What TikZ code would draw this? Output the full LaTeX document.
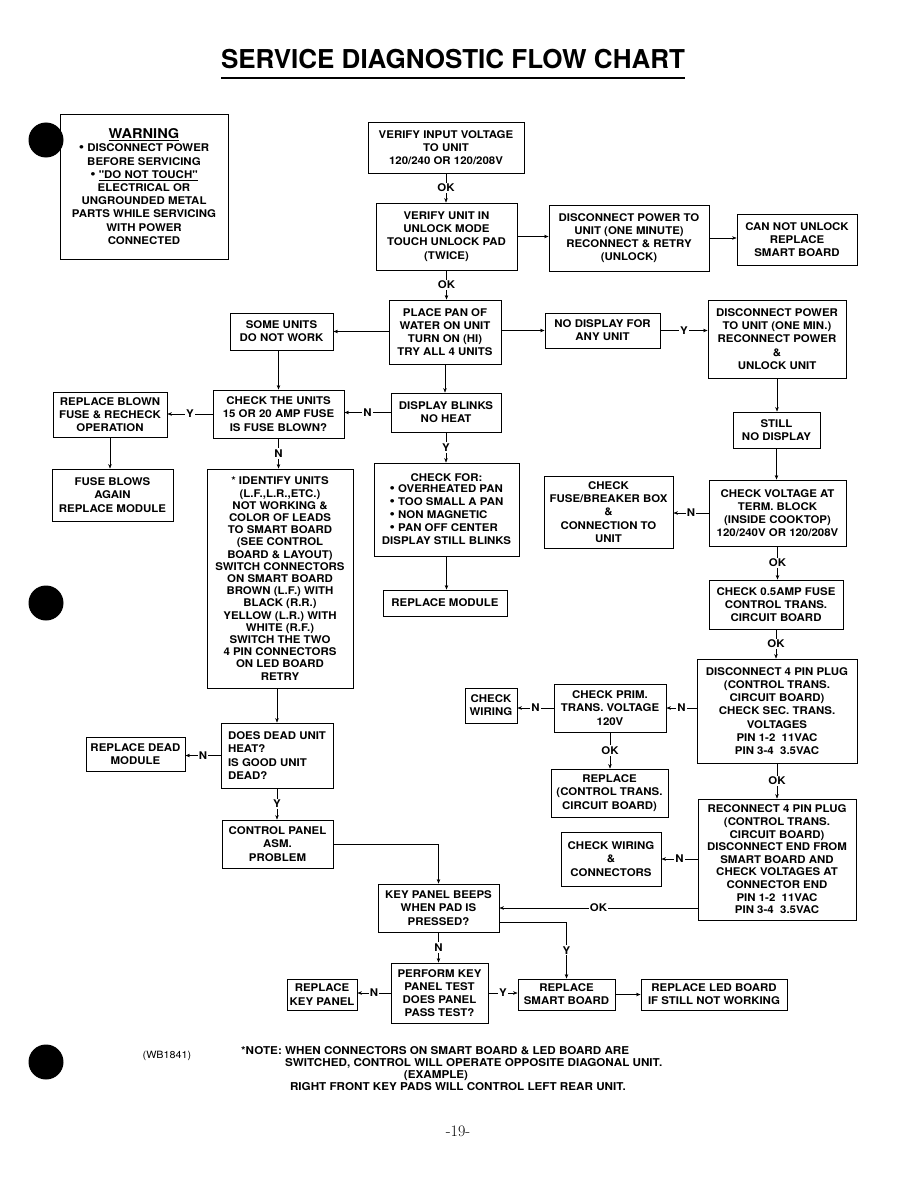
\documentclass[tikz,border=0pt]{standalone}
\usepackage{fontspec}
\newfontfamily\hv[FakeStretch=1.08]{TeX Gyre Heros}
\newfontfamily\hvt{TeX Gyre Heros}
\usetikzlibrary{arrows.meta}
\newcommand{\blt}{{\fontsize{14}{13}\selectfont\textbullet}}

\begin{document}
\begin{tikzpicture}[x=1pt,y=-1pt,
  >={Stealth[length=4.5pt,width=3.5pt]},
  box/.style={draw, line width=0.9pt, align=center, inner sep=0pt,
    font=\hv\bfseries\fontsize{10.6}{13.2}\selectfont},
  lbl/.style={fill=white, inner sep=1.2pt, font=\hv\bfseries\fontsize{10.6}{12}\selectfont},
  note/.style={inner sep=0pt, font=\hv\bfseries\fontsize{10.8}{12}\selectfont},
  conn/.style={->, line width=0.5pt}]
\useasboundingbox (0,0) rectangle (918,1188);

\node[font=\hvt\bfseries\fontsize{26}{30}\selectfont, anchor=base] (title) at (453,69) {SERVICE DIAGNOSTIC FLOW CHART};
\draw[line width=1.2pt] (221,78) -- (685,78);

\fill (46,140) circle (17.5);
\fill (46,603) circle (17.5);
\fill (46,1062) circle (17.5);

\node[box, minimum width=168, minimum height=145] (warn) at (144,186.5) {{\fontsize{13.5}{15}\selectfont\underline{WARNING}}\\\blt\ DISCONNECT POWER\\BEFORE SERVICING\\\blt\ \underline{"DO NOT TOUCH"}\\ELECTRICAL OR\\UNGROUNDED METAL\\PARTS WHILE SERVICING\\WITH POWER\\CONNECTED};

\node[box, minimum width=156, minimum height=51] (vin) at (446,147.5) {VERIFY INPUT VOLTAGE\\TO UNIT\\120/240 OR 120/208V};
\node[box, minimum width=141, minimum height=67] (vunit) at (446.5,236.5) {VERIFY UNIT IN\\UNLOCK MODE\\TOUCH UNLOCK PAD\\(TWICE)};
\node[box, minimum width=160, minimum height=66] (dpow) at (629,238) {DISCONNECT POWER TO\\UNIT (ONE MINUTE)\\RECONNECT \& RETRY\\(UNLOCK)};
\node[box, minimum width=120, minimum height=51] (cnu) at (797,239.5) {CAN NOT UNLOCK\\REPLACE\\SMART BOARD};

\node[box, minimum width=112, minimum height=64] (pan) at (445,332) {PLACE PAN OF\\WATER ON UNIT\\TURN ON (HI)\\TRY ALL 4 UNITS};
\node[box, minimum width=103, minimum height=37] (some) at (281.5,331.5) {SOME UNITS\\DO NOT WORK};
\node[box, minimum width=115, minimum height=35] (nodisp) at (602.5,330.5) {NO DISPLAY FOR\\ANY UNIT};
\node[box, minimum width=138, minimum height=78] (dpow2) at (777,339) {DISCONNECT POWER\\TO UNIT (ONE MIN.)\\RECONNECT POWER\\\&\\UNLOCK UNIT};
\node[box, minimum width=87, minimum height=36] (still) at (776.5,430) {STILL\\NO DISPLAY};

\node[box, minimum width=114, minimum height=45] (rblown) at (110,414.5) {REPLACE BLOWN\\FUSE \& RECHECK\\OPERATION};
\node[box, minimum width=131, minimum height=48] (chku) at (278.5,414) {CHECK THE UNITS\\15 OR 20 AMP FUSE\\IS FUSE BLOWN?};
\node[box, minimum width=110, minimum height=39] (blinks) at (446,412.5) {DISPLAY BLINKS\\NO HEAT};
\node[box, minimum width=121, minimum height=52] (fuseag) at (112.5,495) {FUSE BLOWS\\AGAIN\\REPLACE MODULE};
\node[box, minimum width=146, minimum height=219, font=\hv\bfseries\fontsize{10.6}{12.2}\selectfont] (ident) at (280,578.5) {* IDENTIFY UNITS\\(L.F.,L.R.,ETC.)\\NOT WORKING \&\\COLOR OF LEADS\\TO SMART BOARD\\(SEE CONTROL\\BOARD \& LAYOUT)\\SWITCH CONNECTORS\\ON SMART BOARD\\BROWN (L.F.) WITH\\BLACK (R.R.)\\YELLOW (L.R.) WITH\\WHITE (R.F.)\\SWITCH THE TWO\\4 PIN CONNECTORS\\ON LED BOARD\\RETRY};
\node[box, minimum width=145, minimum height=93] (chkfor) at (446.5,509.5) {CHECK FOR:\\\begin{tabular}{@{}l@{}}\blt\ OVERHEATED PAN\\\blt\ TOO SMALL A PAN\\\blt\ NON MAGNETIC\\\blt\ PAN OFF CENTER\end{tabular}\\DISPLAY STILL BLINKS};
\node[box, minimum width=129, minimum height=72] (chkfuse) at (608.5,512) {CHECK\\FUSE/BREAKER BOX\\\&\\CONNECTION TO\\UNIT};
\node[box, minimum width=137, minimum height=66] (chkv) at (777.5,513) {CHECK VOLTAGE AT\\TERM. BLOCK\\(INSIDE COOKTOP)\\120/240V OR 120/208V};
\node[box, minimum width=124, minimum height=26] (rmod) at (445,603) {REPLACE MODULE};
\node[box, minimum width=134, minimum height=49] (chk05) at (776,604.5) {CHECK 0.5AMP FUSE\\CONTROL TRANS.\\CIRCUIT BOARD};

\node[box, minimum width=160, minimum height=104] (d4pin) at (777,711) {DISCONNECT 4 PIN PLUG\\(CONTROL TRANS.\\CIRCUIT BOARD)\\CHECK SEC. TRANS.\\VOLTAGES\\PIN 1-2\ \ 11VAC\\PIN 3-4\ \ 3.5VAC};
\node[box, minimum width=52, minimum height=35] (chkwir) at (491,705.5) {CHECK\\WIRING};
\node[box, minimum width=112, minimum height=48] (prim) at (610,708) {CHECK PRIM.\\TRANS. VOLTAGE\\120V};
\node[box, minimum width=117, minimum height=48] (rctrans) at (609.5,793) {REPLACE\\(CONTROL TRANS.\\CIRCUIT BOARD)};
\node[box, minimum width=158, minimum height=121, font=\hv\bfseries\fontsize{10.6}{12.6}\selectfont] (rec4) at (777,859.5) {RECONNECT 4 PIN PLUG\\(CONTROL TRANS.\\CIRCUIT BOARD)\\DISCONNECT END FROM\\SMART BOARD AND\\CHECK VOLTAGES AT\\CONNECTOR END\\PIN 1-2\ \ 11VAC\\PIN 3-4\ \ 3.5VAC};

\node[box, minimum width=112, minimum height=65, align=left] (dead) at (277,755.5) {DOES DEAD UNIT\\HEAT?\\IS GOOD UNIT\\DEAD?};
\node[box, minimum width=99, minimum height=34] (rdead) at (135.5,754) {REPLACE DEAD\\MODULE};
\node[box, minimum width=111, minimum height=48] (cpanel) at (277.5,844) {CONTROL PANEL\\ASM.\\PROBLEM};
\node[box, minimum width=100, minimum height=54] (wirconn) at (611,859) {CHECK WIRING\\\&\\CONNECTORS};
\node[box, minimum width=121, minimum height=48] (beeps) at (438.5,908) {KEY PANEL BEEPS\\WHEN PAD IS\\PRESSED?};
\node[box, minimum width=97, minimum height=60] (perf) at (439.5,993) {PERFORM KEY\\PANEL TEST\\DOES PANEL\\PASS TEST?};
\node[box, minimum width=70, minimum height=31] (rkey) at (322,994.5) {REPLACE\\KEY PANEL};
\node[box, minimum width=97, minimum height=31] (rsmart) at (566.5,994.5) {REPLACE\\SMART BOARD};
\node[box, minimum width=146, minimum height=31] (rled) at (714,994.5) {REPLACE LED BOARD\\IF STILL NOT WORKING};

\draw[conn] (vin.south) -- node[lbl] {OK} (vin.south |- vunit.north);
\draw[conn] (vunit.east) -- (vunit.east -| dpow.west);
\draw[conn] (dpow.east) -- (dpow.east -| cnu.west);
\draw[conn] (vunit.south) -- node[lbl] {OK} (vunit.south |- pan.north);
\draw[conn] (pan.west |- some.east) -- (some.east);
\draw[conn] (pan.east |- nodisp.west) -- (nodisp.west);
\draw[conn] (nodisp.east) -- node[lbl] {Y} (nodisp.east -| dpow2.west);
\draw[conn] (dpow2.south) -- (dpow2.south |- still.north);
\draw[conn] (still.south) -- (still.south |- chkv.north);
\draw[conn] (pan.south) -- (pan.south |- blinks.north);
\draw[conn] (blinks.west) -- node[lbl] {N} (blinks.west -| chku.east);
\draw[conn] (chku.west) -- node[lbl] {Y} (chku.west -| rblown.east);
\draw[conn] (chku.north |- some.south) -- (chku.north);
\draw[conn] (rblown.south) -- (rblown.south |- fuseag.north);
\draw[conn] (chku.south) -- node[lbl] {N} (chku.south |- ident.north);
\draw[conn] (blinks.south) -- node[lbl] {Y} (blinks.south |- chkfor.north);
\draw[conn] (chkfor.south) -- (chkfor.south |- rmod.north);
\draw[conn] (chkv.west) -- node[lbl] {N} (chkv.west -| chkfuse.east);
\draw[conn] (chkv.south) -- node[lbl] {OK} (chkv.south |- chk05.north);
\draw[conn] (chk05.south) -- node[lbl] {OK} (chk05.south |- d4pin.north);
\draw[conn] (d4pin.west |- prim.east) -- node[lbl] {N} (prim.east);
\draw[conn] (prim.west) -- node[lbl] {N} (prim.west -| chkwir.east);
\draw[conn] (prim.south) -- node[lbl] {OK} (prim.south |- rctrans.north);
\draw[conn] (d4pin.south) -- node[lbl] {OK} (d4pin.south |- rec4.north);
\draw[conn] (rec4.west |- wirconn.east) -- node[lbl] {N} (wirconn.east);
\draw[conn] (rec4.west |- beeps.east) -- node[lbl] {OK} (beeps.east);
\draw[conn] (dead.north |- ident.south) -- (dead.north);
\draw[conn] (dead.west) -- node[lbl] {N} (dead.west -| rdead.east);
\draw[conn] (dead.south) -- node[lbl] {Y} (dead.south |- cpanel.north);
\draw[conn] (cpanel.east) -| (beeps.north);
\draw[conn] (beeps.south) -- node[lbl] {N} (beeps.south |- perf.north);
\draw[conn] ([yshift=-14pt]beeps.east) -| node[lbl, pos=0.75] {Y} (rsmart.north);
\draw[conn] (perf.west) -- node[lbl] {N} (perf.west -| rkey.east);
\draw[conn] (perf.east) -- node[lbl] {Y} (perf.east -| rsmart.west);
\draw[conn] (rsmart.east) -- (rled.west);

\node[font=\hv\fontsize{10}{12}\selectfont] (wbcode) at (167,1056) {(WB1841)};
\node[note, anchor=base west] (note1) at (241,1054) {*NOTE: WHEN CONNECTORS ON SMART BOARD \& LED BOARD ARE};
\node[note, anchor=base west] (note2) at (285,1066) {SWITCHED, CONTROL WILL OPERATE OPPOSITE DIAGONAL UNIT.};
\node[note, anchor=base] (note3) at (436,1078) {(EXAMPLE)};
\node[note, anchor=base] (note4) at (458,1090) {RIGHT FRONT KEY PADS WILL CONTROL LEFT REAR UNIT.};
\node[font=\fontsize{16}{19}\selectfont] (page) at (458,1131) {-19-};
\end{tikzpicture}
\end{document}
